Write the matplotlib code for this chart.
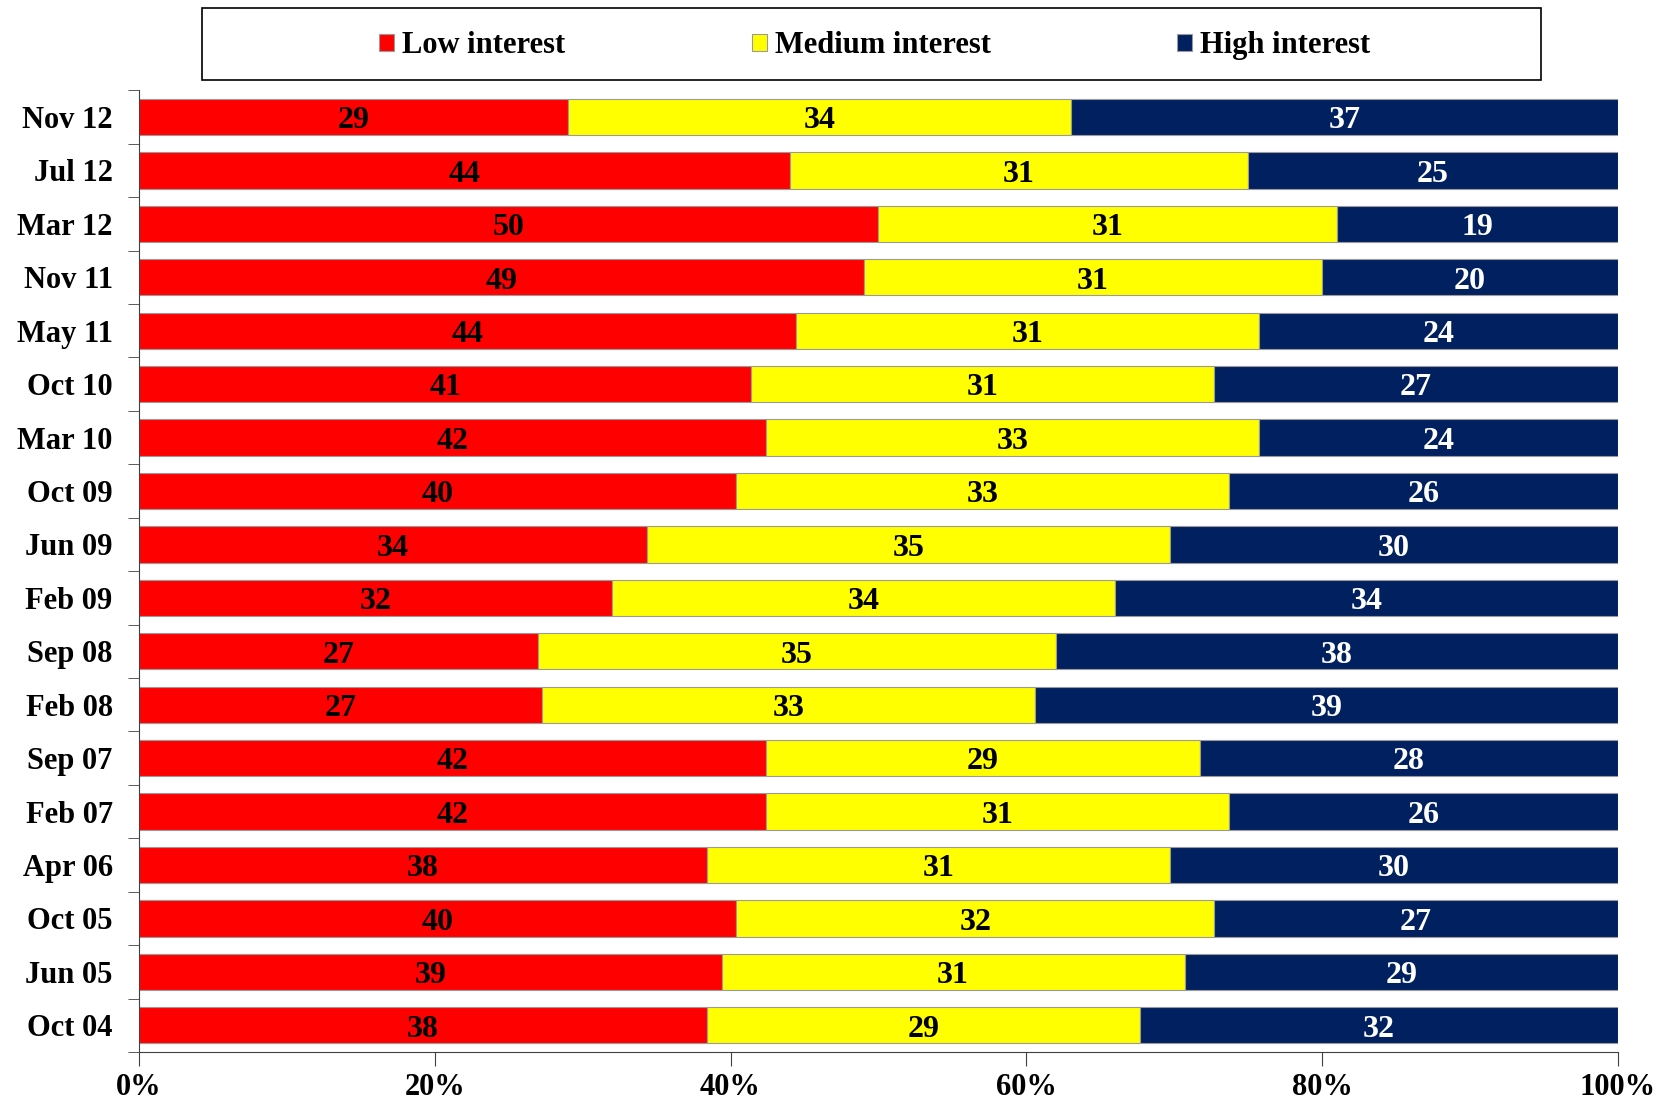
import numpy as np
import matplotlib
matplotlib.use("Agg")
import matplotlib.pyplot as plt
from matplotlib.patches import Rectangle

plt.rcParams['font.family'] = ['Liberation Serif', 'DejaVu Serif']
plt.rcParams['font.weight'] = 'bold'

dates = ['Nov 12', 'Jul 12', 'Mar 12', 'Nov 11', 'May 11', 'Oct 10', 'Mar 10', 'Oct 09',
         'Jun 09', 'Feb 09', 'Sep 08', 'Feb 08', 'Sep 07', 'Feb 07', 'Apr 06', 'Oct 05',
         'Jun 05', 'Oct 04']
low = [29, 44, 50, 49, 44, 41, 42, 40, 34, 32, 27, 27, 42, 42, 38, 40, 39, 38]
medium = [34, 31, 31, 31, 31, 31, 33, 33, 35, 34, 35, 33, 29, 31, 31, 32, 31, 29]
high = [37, 25, 19, 20, 24, 27, 24, 26, 30, 34, 38, 39, 28, 26, 30, 27, 29, 32]

series = [('Low interest', low, '#ff0000', 'black'),
          ('Medium interest', medium, '#ffff00', 'black'),
          ('High interest', high, '#002060', 'white')]

fig = plt.figure(figsize=(16.69, 11.01), dpi=100)
ax = fig.add_axes([0.0833, 0.0445, 0.886, 0.8735])

n = len(dates)
y = np.arange(n)[::-1]
totals = np.array(low) + np.array(medium) + np.array(high)
left = np.zeros(n)
for name, vals, col, tcol in series:
    share = np.array(vals) / totals
    ax.barh(y, share, left=left, height=0.68, color=col, edgecolor='#9a9a9a',
            linewidth=0.8, label=name)
    for yi, l, s, v in zip(y, left, share, vals):
        ax.text(l + s / 2, yi - 0.07, str(v), ha='center', va='center', fontsize=23,
                fontweight='bold', color=tcol)
    left = left + share

ax.set_xlim(0, 1)
ax.set_ylim(-0.5, n - 0.5)
ax.set_xticks([0, 0.2, 0.4, 0.6, 0.8, 1.0])
ax.set_xticklabels(['0%', '20%', '40%', '60%', '80%', '100%'], fontsize=22, fontweight='bold')
ax.set_yticks(y)
ax.set_yticklabels(dates, fontsize=22, fontweight='bold')
ax.set_yticks(np.arange(n + 1) - 0.5, minor=True)
ax.tick_params(axis='y', which='major', length=0, pad=19)
ax.tick_params(axis='y', which='minor', length=8, color='#404040')
ax.tick_params(axis='x', length=10, color='#404040', pad=5)
for s in ['top', 'right']:
    ax.spines[s].set_visible(False)
for s in ['left', 'bottom']:
    ax.spines[s].set_color('#404040')

handles, labels = ax.get_legend_handles_labels()
fig.legend(handles, labels, loc='center', bbox_to_anchor=(0.524, 0.9585), ncol=3,
           frameon=False, prop={'weight': 'bold', 'size': 22},
           handlelength=0.5, handleheight=0.5, handletextpad=0.25, columnspacing=6.1)
fig.patches.append(Rectangle((0.121, 0.9275), 0.8025, 0.065, transform=fig.transFigure,
                             fill=False, edgecolor='black', linewidth=1.2))

fig.savefig('out.png', dpi=100)
